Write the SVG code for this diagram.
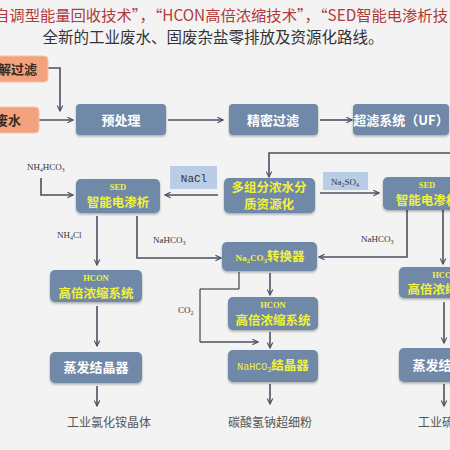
<svg xmlns="http://www.w3.org/2000/svg" width="450" height="450" viewBox="0 0 450 450">
<defs>
<marker id="ah" viewBox="0 0 10 10" refX="9" refY="5" markerWidth="7" markerHeight="7" orient="auto" markerUnits="userSpaceOnUse">
<path d="M1,1 L9,5 L1,9" fill="none" stroke="#4a5160" stroke-width="1.6"/>
</marker>
<filter id="sh" x="-10%" y="-10%" width="120%" height="140%">
<feDropShadow dx="0" dy="1.5" stdDeviation="1.2" flood-color="#000" flood-opacity="0.3"/>
</filter>
<style>
.bx{fill:#7089a8;filter:url(#sh)}
.ob{fill:#f4a27e;stroke:#f7c2a6;stroke-width:1}
.lb{fill:#b9cde6}
.w{font-family:"Noto Sans CJK SC",sans-serif;font-weight:bold;font-size:13px;fill:#ffffff;text-anchor:middle}
.y{font-family:"Noto Sans CJK SC",sans-serif;font-weight:bold;font-size:12.5px;fill:#f2f23a;text-anchor:middle}
.ys{font-family:"Liberation Serif",serif;font-weight:bold;font-size:8.5px;fill:#f2f23a;text-anchor:middle}
.ot{font-family:"Noto Sans CJK SC",sans-serif;font-weight:bold;font-size:13px;fill:#3a2a20;text-anchor:end}
.c{fill:none;stroke:#4a5160;stroke-width:1.6}
.ck{fill:none;stroke:#222;stroke-width:1}
.ch{font-family:"Liberation Serif",serif;font-size:9px;fill:#333}
.mn{font-family:"Liberation Mono",monospace;font-size:11px;fill:#333;text-anchor:middle}
.out{font-family:"Noto Sans CJK SC",sans-serif;font-size:12px;fill:#555}
</style>
</defs>
<rect width="450" height="450" fill="#f3f3f3"/>
<text x="221" y="21" font-family="Noto Sans CJK SC, sans-serif" font-size="15.3" fill="#b03a3a" text-anchor="middle">自调型能量回收技术”，“HCON高倍浓缩技术”，“SED智能电渗析技</text>
<text x="213" y="43" font-family="Noto Sans CJK SC, sans-serif" font-size="15.5" fill="#333" text-anchor="middle">全新的工业废水、固废杂盐零排放及资源化路线。</text>

<g id="connectors">
<path class="c" d="M48,68 H60 V111" marker-end="url(#ah)"/>
<path class="c" d="M39,120 H73" marker-end="url(#ah)"/>
<path class="c" d="M168,120 H223" marker-end="url(#ah)"/>
<path class="c" d="M320,120 H352" marker-end="url(#ah)"/>
<path class="c" d="M450,153 H269 V177" marker-end="url(#ah)"/>
<path class="c" d="M41,178 V195 H73" marker-end="url(#ah)"/>
<path class="c" d="M218,195 H165" marker-end="url(#ah)"/>
<path class="c" d="M320,193 H379" marker-end="url(#ah)"/>
<path class="c" d="M97,216 V265" marker-end="url(#ah)"/>
<path class="c" d="M137,216 V258 H221" marker-end="url(#ah)"/>
<path class="c" d="M407,210 V257 H319" marker-end="url(#ah)"/>
<path class="c" d="M443,210 V264" marker-end="url(#ah)"/>
<path class="c" d="M270,273 V295" marker-end="url(#ah)"/>
<path class="ck" d="M239,272 V289 H200 V342"/>
<path class="c" d="M200,342 H258" marker-end="url(#ah)"/>
<path class="c" d="M270,332 V348" marker-end="url(#ah)"/>
<path class="c" d="M270,384 V404" marker-end="url(#ah)"/>
<path class="c" d="M97,306 V346" marker-end="url(#ah)"/>
<path class="c" d="M97,386 V406" marker-end="url(#ah)"/>
<path class="c" d="M444,302 V343" marker-end="url(#ah)"/>
<path class="c" d="M444,384 V406" marker-end="url(#ah)"/>
</g>

<g id="n-dissolve"><rect class="ob" x="-10" y="56" width="58" height="26" rx="4"/><text class="ot" x="37" y="74">溶解过滤</text></g>
<g id="n-waste"><rect class="ob" x="-10" y="107" width="49" height="26" rx="4"/><text class="ot" x="21" y="125">废水</text></g>
<g id="n-pre"><rect class="bx" x="76" y="104" width="90" height="31" rx="4"/><text class="w" x="121" y="125">预处理</text></g>
<g id="n-fine"><rect class="bx" x="229" y="104" width="89" height="31" rx="4"/><text class="w" x="273" y="125">精密过滤</text></g>
<g id="n-uf"><rect class="bx" x="353" y="104" width="96" height="31" rx="4"/><text class="w" x="401" y="125" font-size="12">超滤系统（UF）</text></g>

<g id="l-nh4hco3"><text class="ch" x="27" y="170" font-size="8">NH<tspan font-size="5.5" dy="2">4</tspan><tspan dy="-2">HCO</tspan><tspan font-size="5.5" dy="2">3</tspan></text></g>
<g id="n-sed-left"><rect class="bx" x="76" y="179" width="84" height="34" rx="5"/><text class="ys" x="118" y="190">SED</text><text class="y" x="118" y="207">智能电渗析</text></g>
<g id="l-nacl"><rect class="lb" x="170" y="166" width="47" height="23"/><text class="mn" x="194" y="182">NaCl</text></g>
<g id="n-multi"><rect class="bx" x="224" y="178" width="91" height="35" rx="5"/><text class="y" x="269" y="191.5" font-size="12">多组分浓水分</text><text class="y" x="269" y="209" font-size="12">质资源化</text></g>
<g id="l-na2so4"><rect class="lb" x="323" y="172" width="45" height="18"/><text class="ch" x="345" y="185" font-size="9.5" text-anchor="middle">Na<tspan font-size="6" dy="2">2</tspan><tspan dy="-2">SO</tspan><tspan font-size="6" dy="2">4</tspan></text></g>
<g id="n-sed-right"><rect class="bx" x="383" y="177" width="88" height="33" rx="5"/><text class="ys" x="427" y="188">SED</text><text class="y" x="427" y="205">智能电渗析</text></g>

<g id="l-nh4cl"><text class="ch" x="57" y="238">NH<tspan font-size="6" dy="2">4</tspan><tspan dy="-2">Cl</tspan></text></g>
<g id="l-nahco3-l"><text class="ch" x="153" y="243">NaHCO<tspan font-size="6" dy="2">3</tspan></text></g>
<g id="l-nahco3-r"><text class="ch" x="361" y="242">NaHCO<tspan font-size="6" dy="2">3</tspan></text></g>
<g id="n-conv"><rect class="bx" x="222" y="242" width="95" height="29" rx="5"/><text class="y" x="270" y="261"><tspan font-family="Liberation Serif,serif" font-size="9">Na<tspan font-size="7" dy="2">2</tspan><tspan dy="-2">CO</tspan><tspan font-size="7" dy="2">3</tspan></tspan><tspan dy="-2">转换器</tspan></text></g>

<g id="n-hcon-left"><rect class="bx" x="50" y="270" width="92" height="32" rx="5"/><text class="ys" x="96" y="281">HCON</text><text class="y" x="96" y="297.5">高倍浓缩系统</text></g>
<g id="n-hcon-mid"><rect class="bx" x="228" y="297" width="90" height="33" rx="5"/><text class="ys" x="273" y="308">HCON</text><text class="y" x="273" y="325">高倍浓缩系统</text></g>
<g id="n-hcon-right"><rect class="bx" x="399" y="267" width="92" height="31" rx="5"/><text class="ys" x="445" y="278">HCON</text><text class="y" x="445" y="294">高倍浓缩系统</text></g>
<g id="l-co2"><text class="ch" x="178" y="313">CO<tspan font-size="6" dy="2">2</tspan></text></g>

<g id="n-evap-left"><rect class="bx" x="50" y="352" width="92" height="31" rx="5"/><text class="w" x="96" y="372">蒸发结晶器</text></g>
<g id="n-nahco3-cryst"><rect class="bx" x="228" y="350" width="90" height="32" rx="5"/><text class="y" x="273" y="370"><tspan font-family="Liberation Mono,monospace" font-weight="normal" font-size="10">NaHCO<tspan font-size="7" dy="2">3</tspan></tspan><tspan dy="-2">结晶器</tspan></text></g>
<g id="n-evap-right"><rect class="bx" x="399" y="348" width="92" height="34" rx="5"/><text class="w" x="445" y="370">蒸发结晶器</text></g>

<g id="o-nh4cl"><text class="out" x="109" y="427" text-anchor="middle">工业氯化铵晶体</text></g>
<g id="o-nahco3"><text class="out" x="270" y="427" text-anchor="middle">碳酸氢钠超细粉</text></g>
<g id="o-na2so4"><text class="out" x="418" y="427">工业硫酸钠</text></g>
</svg>
